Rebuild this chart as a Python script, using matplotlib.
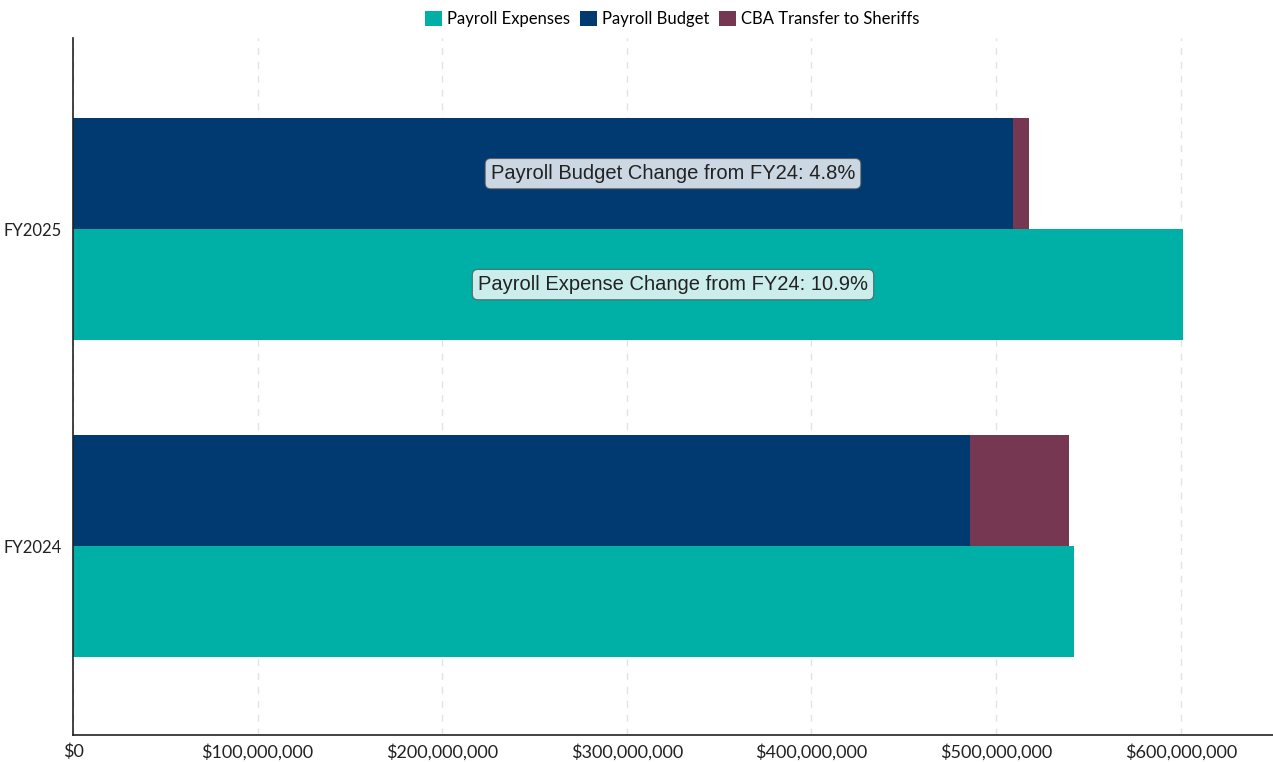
import matplotlib.pyplot as plt
from matplotlib.ticker import FuncFormatter, MultipleLocator

# data
years = ['FY2024', 'FY2025']
payroll_expenses = [542_000_000, 601_000_000]
payroll_budget = [486_000_000, 509_300_000]
cba_transfer = [53_600_000, 8_300_000]
change_labels = ['Payroll Budget Change from FY24: 4.8%',
                 'Payroll Expense Change from FY24: 10.9%']

c_exp = '#00AFA6'
c_bud = '#003A70'
c_cba = '#763752'

fig = plt.figure(figsize=(12.73, 7.62), dpi=100)
ax = fig.add_axes([73/1273, 27/762, 1200/1273, 697/762])

h = 0.35
pos = list(range(len(years)))
ax.barh([p - h/2 for p in pos], payroll_expenses, height=h, color=c_exp, label='Payroll Expenses', zorder=2)
ax.barh([p + h/2 for p in pos], payroll_budget, height=h, color=c_bud, label='Payroll Budget', zorder=2)
ax.barh([p + h/2 for p in pos], cba_transfer, left=payroll_budget, height=h, color=c_cba,
        label='CBA Transfer to Sheriffs', zorder=2)

# change annotations on FY2025
box = dict(boxstyle='round,pad=0.28', facecolor='white', alpha=0.8, edgecolor='#555555', linewidth=0.8)
ax.text(0.5, pos[1] + h/2, change_labels[0], transform=ax.get_yaxis_transform(),
        ha='center', va='center', fontsize=14.5, family='Liberation Sans', color='#222222', bbox=box, zorder=3)
ax.text(0.5, pos[1] - h/2, change_labels[1], transform=ax.get_yaxis_transform(),
        ha='center', va='center', fontsize=14.5, family='Liberation Sans', color='#222222', bbox=box, zorder=3)

ax.set_xlim(0, 650_000_000)
ax.set_ylim(-0.596, 1.603)
ax.set_yticks(pos)
ax.set_yticklabels(years)
ax.xaxis.set_major_locator(MultipleLocator(100_000_000))
ax.xaxis.set_major_formatter(FuncFormatter(lambda v, p: '${:,.0f}'.format(v)))
ax.tick_params(length=0, labelsize=13, colors='#222222', pad=6)
ax.tick_params(axis='y', pad=8, labelsize=12)
for lab in ax.get_xticklabels() + ax.get_yticklabels():
    lab.set_family('Lato')

ax.grid(axis='x', linestyle=(0, (5, 5)), color='#e3e3e3', linewidth=1, zorder=0)
ax.set_axisbelow(True)
for s in ['top', 'right']:
    ax.spines[s].set_visible(False)
for s in ['left', 'bottom']:
    ax.spines[s].set_color('#222222')
    ax.spines[s].set_linewidth(1.2)

handles, labels = ax.get_legend_handles_labels()
leg = fig.legend(handles, labels, loc='upper center', bbox_to_anchor=(0.528, 1.005), ncol=3, frameon=False,
                 handlelength=1, handleheight=1, handletextpad=0.3, columnspacing=0.6,
                 prop={'family': 'Lato', 'size': 12})

fig.savefig('out.png', dpi=100)
